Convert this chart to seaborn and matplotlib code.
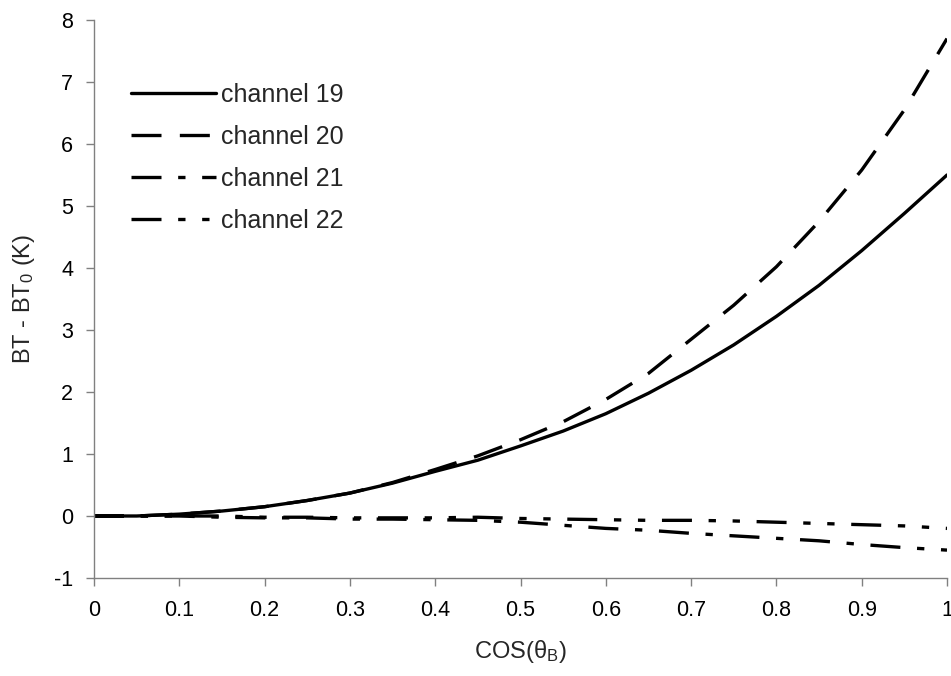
import numpy as np
import pandas as pd
import matplotlib
matplotlib.use("Agg")
import matplotlib.pyplot as plt
import seaborn as sns

# cos(theta_B) sample positions
cos_theta = [0.0, 0.05, 0.10, 0.15, 0.20, 0.25, 0.30, 0.35, 0.40, 0.45, 0.50,
             0.55, 0.60, 0.65, 0.70, 0.75, 0.80, 0.85, 0.90, 0.95, 1.00]

# brightness temperature change BT - BT0 (K) per channel
ch19 = [0.0, 0.0, 0.03, 0.08, 0.15, 0.25, 0.37, 0.53, 0.72, 0.90, 1.13,
        1.37, 1.65, 1.98, 2.35, 2.76, 3.22, 3.72, 4.28, 4.88, 5.50]
ch20 = [0.0, 0.0, 0.03, 0.08, 0.15, 0.25, 0.37, 0.54, 0.75, 0.97, 1.23,
        1.52, 1.88, 2.30, 2.85, 3.40, 4.02, 4.75, 5.58, 6.55, 7.70]
ch21 = [0.0, 0.0, 0.0, -0.02, -0.03, -0.03, -0.05, -0.05, -0.06, -0.07, -0.10,
        -0.15, -0.20, -0.23, -0.28, -0.32, -0.36, -0.40, -0.46, -0.51, -0.55]
ch22 = [0.0, 0.0, 0.0, 0.0, -0.02, -0.02, -0.03, -0.03, -0.03, -0.02, -0.04,
        -0.05, -0.06, -0.07, -0.07, -0.08, -0.10, -0.12, -0.14, -0.16, -0.20]

labels = ["channel 19", "channel 20", "channel 21", "channel 22"]
x_ticks = [0, 0.1, 0.2, 0.3, 0.4, 0.5, 0.6, 0.7, 0.8, 0.9, 1]
x_tick_labels = ["0", "0.1", "0.2", "0.3", "0.4", "0.5", "0.6", "0.7", "0.8", "0.9", "1"]
y_ticks = [-1, 0, 1, 2, 3, 4, 5, 6, 7, 8]

df = pd.DataFrame({
    "cos": cos_theta * 4,
    "dbt": ch19 + ch20 + ch21 + ch22,
    "channel": [lab for lab in labels for _ in cos_theta],
})

sns.set_style("white")
plt.rcParams["font.family"] = ["Liberation Sans", "DejaVu Sans"]
plt.rcParams["mathtext.fontset"] = "custom"
plt.rcParams["mathtext.rm"] = "Liberation Sans"
plt.rcParams["mathtext.it"] = "Liberation Sans"
plt.rcParams["axes.unicode_minus"] = False

fig = plt.figure(figsize=(9.51, 6.76), dpi=100)
ax = fig.add_axes([94 / 951, 1 - 578 / 676, 853 / 951, 558 / 676])

lw = 2.4
dash_styles = {
    "channel 19": "",
    "channel 20": (9, 5.5),
    "channel 21": (9, 5, 2.2, 5),
    "channel 22": (9, 5, 2.2, 5, 2.2, 5),
}

sns.lineplot(data=df, x="cos", y="dbt", style="channel", style_order=labels,
             dashes=dash_styles, color="black", linewidth=lw, ax=ax,
             legend=True)

ax.set_xlim(0, 1)
ax.set_ylim(-1, 8)
ax.set_xticks(x_ticks)
ax.set_xticklabels(x_tick_labels)
ax.set_yticks(y_ticks)

for side in ("top", "right"):
    ax.spines[side].set_visible(False)
for side in ("left", "bottom"):
    ax.spines[side].set_color("#808080")
    ax.spines[side].set_linewidth(1.0)

ax.tick_params(axis="both", which="major", direction="out", length=6,
               width=1.0, color="#808080", labelsize=15.5, labelcolor="black",
               left=True, bottom=True)
ax.tick_params(axis="x", pad=10)
ax.tick_params(axis="y", pad=9)

ax.set_xlabel("COS(θ$_\\mathrm{B}$)", fontsize=17, labelpad=12)
ax.set_ylabel("BT - BT$_\\mathrm{0}$ (K)", fontsize=17, labelpad=12)

handles, lbls = ax.get_legend_handles_labels()
leg = ax.legend(handles, lbls, loc="upper left", bbox_to_anchor=(0.043, 0.8875),
                frameon=False, fontsize=18, handlelength=3.4,
                handletextpad=0.2, labelspacing=0.72, borderaxespad=0,
                borderpad=0)
for ln in leg.get_lines():
    ln.set_linewidth(lw)

ax.grid(False)
fig.savefig("out.png", dpi=100)
